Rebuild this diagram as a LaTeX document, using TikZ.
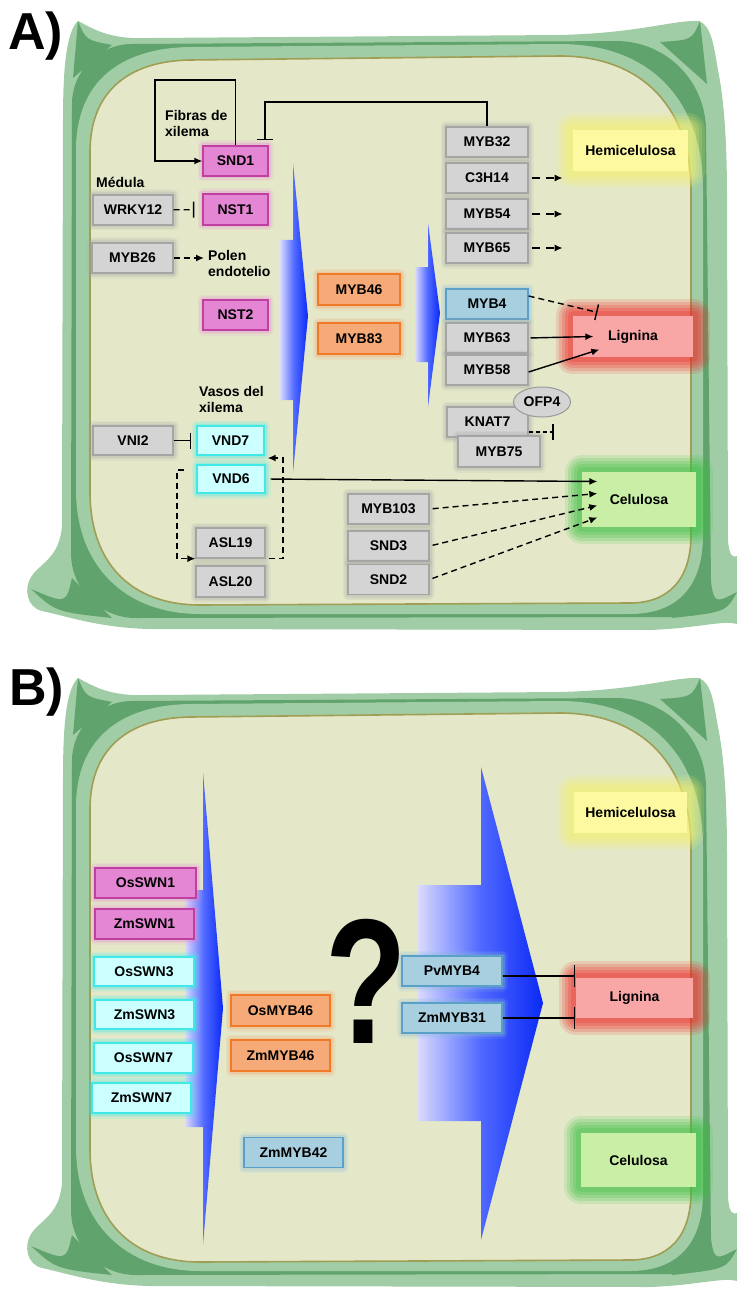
\documentclass[tikz,border=0pt]{standalone}
\usepackage{fontspec}
\setmainfont{Liberation Sans}
\usetikzlibrary{arrows.meta,shapes.geometric}

\definecolor{wallout}{RGB}{160,205,166}
\definecolor{walldark}{RGB}{96,163,108}
\definecolor{cyto}{RGB}{228,232,201}
\definecolor{cytoline}{RGB}{160,158,84}
\definecolor{gfill}{RGB}{212,212,212}
\definecolor{gline}{RGB}{165,165,165}
\definecolor{mfill}{RGB}{228,134,212}
\definecolor{mline}{RGB}{192,64,162}
\definecolor{ofill}{RGB}{245,170,120}
\definecolor{oline}{RGB}{240,122,40}
\definecolor{cfill}{RGB}{204,255,255}
\definecolor{cline}{RGB}{64,232,232}
\definecolor{bfill}{RGB}{168,207,224}
\definecolor{bline}{RGB}{90,160,200}
\definecolor{hemifill}{RGB}{253,249,160}
\definecolor{hemiglow}{RGB}{246,240,110}
\definecolor{ligfill}{RGB}{248,166,166}
\definecolor{ligglow}{RGB}{240,40,40}
\definecolor{celfill}{RGB}{201,239,166}
\definecolor{celglow}{RGB}{60,192,64}
\definecolor{wedgelight}{RGB}{218,218,255}
\definecolor{wedgemid}{RGB}{80,105,255}
\definecolor{wedgeblue}{RGB}{10,42,245}

\newcommand\genefont{\fontsize{14}{16}\selectfont\bfseries}

\newcommand\cellwall{%
  \fill[wallout] (78,21) .. controls (92,28) and (108,40) .. (150,38)
    -- (560,35) .. controls (640,33) and (672,20) .. (699,21)
    .. controls (712,26) and (714,48) .. (718,70)
    .. controls (724,100) and (727,140) .. (727,200)
    -- (728,540) .. controls (729,556) and (733,558) .. (737,556)
    -- (737,624) .. controls (722,620) and (700,628) .. (650,630)
    -- (150,629) .. controls (100,628) and (66,616) .. (42,611)
    .. controls (26,607) and (24,588) .. (31,577)
    .. controls (40,563) and (60,558) .. (62,525)
    -- (63,120) .. controls (63,70) and (66,32) .. (78,21) -- cycle;
  \fill[walldark] (72,104) .. controls (72,71) and (99,44) .. (132,44)
    -- (616,41) .. controls (666,41) and (706,81) .. (706,131)
    -- (711,582) .. controls (711,601) and (695,617) .. (676,617)
    -- (136,618) .. controls (100,618) and (71,589) .. (71,553) -- cycle;
  \fill[walldark] (73,78) .. controls (75,50) .. (78,21) .. controls (86,40) .. (112,45) -- cycle;
  \fill[walldark] (660,42) .. controls (692,40) .. (700,21) .. controls (703,48) .. (707,84) -- cycle;
  \fill[walldark] (710,575) .. controls (714,604) .. (737,592) .. controls (726,612) .. (672,618) -- cycle;
  \fill[walldark] (72,578) .. controls (66,604) .. (31,589) .. controls (56,612) .. (112,618) -- cycle;
  \fill[wallout] (76,150) .. controls (76,82) and (120,48) .. (190,47)
    -- (560,44) .. controls (650,44) and (703,100) .. (703,190)
    -- (703,535) .. controls (703,588) and (676,614) .. (630,614)
    -- (200,614) .. controls (125,614) and (76,566) .. (76,490) -- cycle;
  \filldraw[fill=cyto,draw=cytoline,line width=1.6pt] (90,152) .. controls (90,92) and (128,61) .. (190,60)
    -- (560,56) .. controls (642,56) and (691,108) .. (691,190)
    -- (691,535) .. controls (691,580) and (668,603) .. (630,603)
    -- (200,605) .. controls (130,605) and (90,562) .. (90,492) -- cycle;}

\newcommand\blockarrow[8]{%
  \shade[left color=wedgelight,right color=wedgeblue,middle color=wedgemid]
    (#1,#2) -- (#4,#2) -- (#4,#5) -- (#7,#8) -- (#4,#6) -- (#4,#3) -- (#1,#3) -- cycle;}

\tikzset{
  glow/.style={preaction={draw=#1,line width=11pt,opacity=.12,line join=round},
    preaction={draw=#1,line width=8pt,opacity=.15,line join=round},
    preaction={draw=#1,line width=5pt,opacity=.2,line join=round}},
  bigglow/.style={preaction={draw=#1,line width=34pt,opacity=.15,line join=round},
    preaction={draw=#1,line width=28pt,opacity=.18,line join=round},
    preaction={draw=#1,line width=22pt,opacity=.2,line join=round},
    preaction={draw=#1,line width=16pt,opacity=.22,line join=round},
    preaction={draw=#1,line width=10pt,opacity=.25,line join=round}},
  gene/.style={rectangle,inner sep=0pt,minimum width=81pt,minimum height=30pt,
    line width=1.3pt,font=\genefont},
  graybox/.style={gene,fill=gfill,draw=gline,glow=gray!70},
  nacbox/.style={gene,fill=mfill,draw=mline,glow=mfill,minimum width=65pt},
  vndbox/.style={gene,fill=cfill,draw=cline,glow=cline,minimum width=68pt},
  mybbox/.style={gene,fill=ofill,draw=oline,glow=oline!70,minimum width=82pt,minimum height=31pt},
  bluebox/.style={gene,fill=bfill,draw=bline,glow=bline!70},
  product/.style={gene,minimum width=115pt,minimum height=41pt},
  note/.style={font=\genefont,inner sep=0pt,align=left},
  panel/.style={font=\fontsize{52}{52}\selectfont\bfseries,inner sep=0pt},
  act/.style={->,line width=1.4pt},
  dashact/.style={act,dash pattern=on 6pt off 4pt},
  inh/.style={-{Bar[width=#1,line width=1.4pt]},line width=1.4pt},
  inh/.default=16pt,
  dashinh/.style={inh,dash pattern=on 6pt off 4pt},
}

\begin{document}
\begin{tikzpicture}[x=1pt,y=-1pt,>={Latex[length=8pt,width=7pt]}]
\useasboundingbox (0,0) rectangle (736,1289);
\cellwall
\begin{scope}[yshift=-657pt]\cellwall\end{scope}

\node[panel,anchor=base west] (labA) at (8,50) {A)};
\node[panel,anchor=base west] (labB) at (9,705) {B)};

\blockarrow{280}{240}{400}{293}{163}{473}{308}{316}
\blockarrow{415}{267}{362}{428}{223}{407}{440}{313}
\blockarrow{185}{890}{1127}{203}{772}{1245}{223}{1008}
\blockarrow{418}{885}{1121}{481}{767}{1240}{543}{1003}

\node[note,anchor=north west] (fibras) at (165,110.5) {Fibras de\\xilema};
\node[note,anchor=base west] (medula) at (96,188) {Médula};
\node[note,anchor=north west] (polen) at (208,250) {Polen\\endotelio};
\node[note,anchor=north west] (vasos) at (199,386) {Vasos del\\xilema};

\node[nacbox] (SND1) at (235.5,161) {SND1};
\node[nacbox,minimum height=31pt] (NST1) at (235.5,209.5) {NST1};
\node[nacbox] (NST2) at (235.5,315) {NST2};
\node[graybox,minimum width=80pt] (WRKY12) at (133,210) {WRKY12};
\node[graybox] (MYB26) at (132.5,258) {MYB26};
\node[mybbox] (MYB46) at (359,289.5) {MYB46};
\node[mybbox] (MYB83) at (359,338.5) {MYB83};

\node[graybox,minimum width=82pt] (MYB32) at (487,142) {MYB32};
\node[graybox,minimum width=82pt] (C3H14) at (487,178) {C3H14};
\node[graybox,minimum width=82pt] (MYB54) at (487,214) {MYB54};
\node[graybox,minimum width=82pt] (MYB65) at (487,248) {MYB65};
\node[bluebox,minimum width=82pt] (MYB4) at (487,304) {MYB4};
\node[graybox,minimum width=82pt] (MYB63) at (487,338) {MYB63};
\node[graybox,minimum width=82pt] (MYB58) at (487,370) {MYB58};
\node[graybox] (KNAT7) at (487.5,422) {KNAT7};
\node[graybox,minimum width=82pt,minimum height=31pt] (MYB75) at (499,451.5) {MYB75};
\node[ellipse,draw=gray!80,fill=gfill,line width=1pt,minimum width=57pt,minimum height=30pt,inner sep=0pt,font=\genefont] (OFP4) at (542,402) {OFP4};

\node[graybox,minimum width=80pt,minimum height=29pt] (VNI2) at (133,440.5) {VNI2};
\node[vndbox,minimum width=67pt,minimum height=29pt] (VND7) at (230.5,440.5) {VND7};
\node[vndbox,minimum height=28pt] (VND6) at (231,479) {VND6};
\node[graybox,minimum width=69pt] (ASL19) at (230.5,543) {ASL19};
\node[graybox,minimum width=69pt,minimum height=31pt] (ASL20) at (230.5,581.5) {ASL20};
\node[graybox] (MYB103) at (388.5,509) {MYB103};
\node[graybox] (SND3) at (388.5,546) {SND3};
\node[graybox] (SND2) at (388.5,579.5) {SND2};

\node[product,fill=hemifill,bigglow=hemiglow] (Hemi) at (630.5,150.5) {Hemicelulosa};
\node[product,fill=ligfill,bigglow=ligglow,minimum width=120pt] (Lignina) at (633,336.5) {Lignina};
\node[product,fill=celfill,bigglow=celglow,minimum width=114pt,minimum height=55pt] (Celulosa) at (639,499.5) {Celulosa};

\coordinate (loopA) at (155,80);
\coordinate (inhA) at (265,102);
\coordinate (aslL) at (177,470);
\coordinate (aslR) at (283,458);
\draw[act] (SND1.north) |- (loopA) |- (SND1.west);
\draw[inh,shorten >=5pt] (MYB32.north) |- (inhA) -- (inhA |- SND1.north);
\draw[dashinh,shorten >=8pt] (WRKY12) -- (NST1);
\draw[dashact,shorten >=4pt] (MYB26) -- (MYB26 -| polen.west);
\draw[inh,shorten >=5pt] (VNI2) -- (VND7);
\draw[dashact,shorten <=12pt] (VND6.west |- aslL) -- (aslL) |- (ASL19.south west);
\draw[dashact,shorten <=3pt,shorten >=3pt] (ASL19.south east) -| (aslR) -- (VND7.south east |- aslR);
\foreach \g in {C3H14,MYB54,MYB65}
  \draw[act,dash pattern=on 8pt off 6pt] ([xshift=3pt]\g.east) -- ([xshift=34pt]\g.east);
\draw[dashinh] ([yshift=8pt]MYB4.east) -- ([xshift=25pt,yshift=3pt]Lignina.north west);
\draw[act,shorten <=2pt] (MYB63.east) -- ([xshift=21pt]Lignina.west);
\draw[act] ([yshift=-2pt]MYB58.east) -- ([xshift=27pt,yshift=-13pt]Lignina.west);
\draw[inh,dash pattern=on 4pt off 3pt] ([yshift=-10pt]KNAT7.east) -- ([xshift=25pt,yshift=-10pt]KNAT7.east);
\draw[act,shorten <=5pt] (VND6.east) -- ([xshift=16pt,yshift=18pt]Celulosa.west);
\draw[dashact,shorten <=3pt] (MYB103.east) -- ([xshift=16pt,yshift=6pt]Celulosa.west);
\draw[dashact,shorten <=3pt] (SND3.east) -- ([xshift=16pt,yshift=-6pt]Celulosa.west);
\draw[dashact,shorten <=3pt] (SND2.east) -- ([xshift=16pt,yshift=-18pt]Celulosa.west);

\node[nacbox,minimum width=101pt] (OsSWN1) at (145.5,883) {OsSWN1};
\node[nacbox,minimum width=99pt] (ZmSWN1) at (144.5,924) {ZmSWN1};
\node[vndbox,minimum width=100pt,minimum height=29pt] (OsSWN3) at (144,971.5) {OsSWN3};
\node[vndbox,minimum width=99pt,minimum height=29pt] (ZmSWN3) at (144.5,1014.5) {ZmSWN3};
\node[vndbox,minimum width=99pt,minimum height=30pt] (OsSWN7) at (143.5,1058) {OsSWN7};
\node[vndbox,minimum width=99pt,minimum height=30pt] (ZmSWN7) at (141.5,1098) {ZmSWN7};
\node[mybbox,minimum width=99pt] (OsMYB46) at (280.5,1010.5) {OsMYB46};
\node[mybbox,minimum width=99pt] (ZmMYB46) at (280.5,1055.5) {ZmMYB46};
\node[bluebox,minimum width=99pt] (ZmMYB42) at (293.5,1152.5) {ZmMYB42};
\node[bluebox,minimum width=100pt] (PvMYB4) at (452,971) {PvMYB4};
\node[bluebox,minimum width=100pt] (ZmMYB31) at (452,1018) {ZmMYB31};
\node[inner sep=0pt,anchor=base,font=\fontsize{178}{178}\selectfont\bfseries] (quest) at (366,1043) {\scalebox{0.75}[1]{?}};

\node[product,fill=hemifill,bigglow=hemiglow,minimum width=113pt] (HemiB) at (630.5,812.5) {Hemicelulosa};
\node[product,fill=ligfill,bigglow=ligglow,minimum width=117pt,minimum height=40pt] (LigninaB) at (634.5,998) {Lignina};
\node[product,fill=celfill,bigglow=celglow,minimum width=115pt,minimum height=54pt] (CelulosaB) at (638.5,1160) {Celulosa};

\draw[inh=22pt] ([yshift=-5pt]PvMYB4.east) -- ([yshift=-5pt]PvMYB4.east -| LigninaB.west);
\draw[inh=22pt] (ZmMYB31.east) -- (ZmMYB31.east -| LigninaB.west);
\end{tikzpicture}
\end{document}
